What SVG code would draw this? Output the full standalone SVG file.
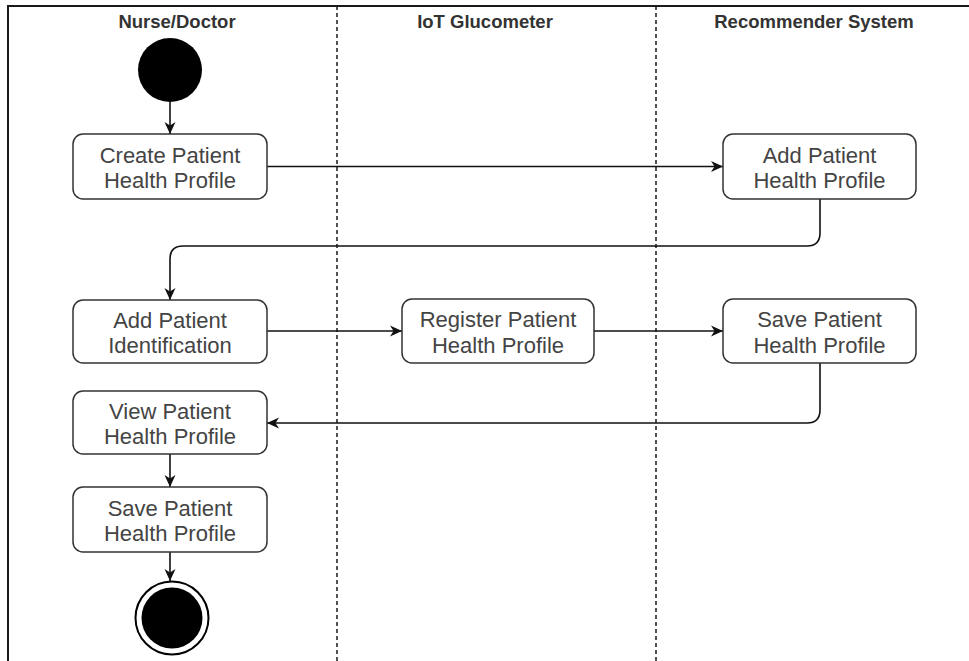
<svg xmlns="http://www.w3.org/2000/svg" width="969" height="661" viewBox="0 0 969 661">
  <style>
    .frame { stroke: #1a1a1a; stroke-width: 2; fill: none; }
    .lane { stroke: #1a1a1a; stroke-width: 1.5; stroke-dasharray: 4 3; fill: none; }
    .hdr { font-family: "Liberation Sans", Arial, sans-serif; font-weight: bold; font-size: 18.5px; fill: #333; text-anchor: middle; }
    .box { fill: #fff; stroke: #333; stroke-width: 1.5; }
    .lbl { font-family: "Liberation Sans", Arial, sans-serif; font-size: 22px; fill: #444; text-anchor: middle; }
    .edge { stroke: #111; stroke-width: 1.6; fill: none; marker-end: url(#arrow); }
  </style>
  <defs>
    <marker id="arrow" markerUnits="userSpaceOnUse" markerWidth="14" markerHeight="12" refX="12" refY="6" orient="auto">
      <path d="M0,0.5 L12,6 L0,11.5 L3.5,6 Z" fill="#111"/>
    </marker>
  </defs>
  <rect width="969" height="661" fill="#fff"/>

  <!-- swimlane frame -->
  <g id="lanes">
    <path class="frame" d="M8,661 V6 H969"/>
    <line class="lane" x1="337" y1="6" x2="337" y2="661"/>
    <line class="lane" x1="656" y1="6" x2="656" y2="661"/>
    <text class="hdr" x="177" y="28">Nurse/Doctor</text>
    <text class="hdr" x="485" y="28">IoT Glucometer</text>
    <text class="hdr" x="814" y="28">Recommender System</text>
  </g>

  <!-- connectors -->
  <g id="connectors">
    <path class="edge" d="M170,102 V134"/>
    <path class="edge" d="M267,166.5 H723"/>
    <path class="edge" d="M820,199 V233 Q820,246 807,246 H183 Q170,246 170,259 V300"/>
    <path class="edge" d="M267,331 H402"/>
    <path class="edge" d="M594,331 H723"/>
    <path class="edge" d="M820,363 V410 Q820,423 807,423 H267"/>
    <path class="edge" d="M170,454 V487"/>
    <path class="edge" d="M170,552 V581"/>
  </g>

  <g id="start">
    <circle cx="170" cy="70" r="32" fill="#000"/>
  </g>

  <g id="create-profile">
    <rect class="box" x="73" y="134" width="194" height="65" rx="10"/>
    <text class="lbl" x="170" y="162.5">Create Patient</text>
    <text class="lbl" x="170" y="188">Health Profile</text>
  </g>

  <g id="add-profile">
    <rect class="box" x="723" y="134" width="193" height="65" rx="10"/>
    <text class="lbl" x="819.5" y="162.5">Add Patient</text>
    <text class="lbl" x="819.5" y="188">Health Profile</text>
  </g>

  <g id="add-identification">
    <rect class="box" x="73" y="300" width="194" height="63" rx="10"/>
    <text class="lbl" x="170" y="327.5">Add Patient</text>
    <text class="lbl" x="170" y="353">Identification</text>
  </g>

  <g id="register-profile">
    <rect class="box" x="402" y="299" width="192" height="64" rx="10"/>
    <text class="lbl" x="498" y="327">Register Patient</text>
    <text class="lbl" x="498" y="353">Health Profile</text>
  </g>

  <g id="save-profile-rs">
    <rect class="box" x="723" y="299" width="193" height="64" rx="10"/>
    <text class="lbl" x="819.5" y="327">Save Patient</text>
    <text class="lbl" x="819.5" y="353">Health Profile</text>
  </g>

  <g id="view-profile">
    <rect class="box" x="73" y="391" width="194" height="63" rx="10"/>
    <text class="lbl" x="170" y="418.5">View Patient</text>
    <text class="lbl" x="170" y="444">Health Profile</text>
  </g>

  <g id="save-profile-nd">
    <rect class="box" x="73" y="487" width="194" height="65" rx="10"/>
    <text class="lbl" x="170" y="515.5">Save Patient</text>
    <text class="lbl" x="170" y="541">Health Profile</text>
  </g>

  <g id="end">
    <circle cx="172" cy="618" r="36.5" fill="#fff" stroke="#000" stroke-width="2"/>
    <circle cx="172" cy="618" r="30.5" fill="#000"/>
  </g>
</svg>
